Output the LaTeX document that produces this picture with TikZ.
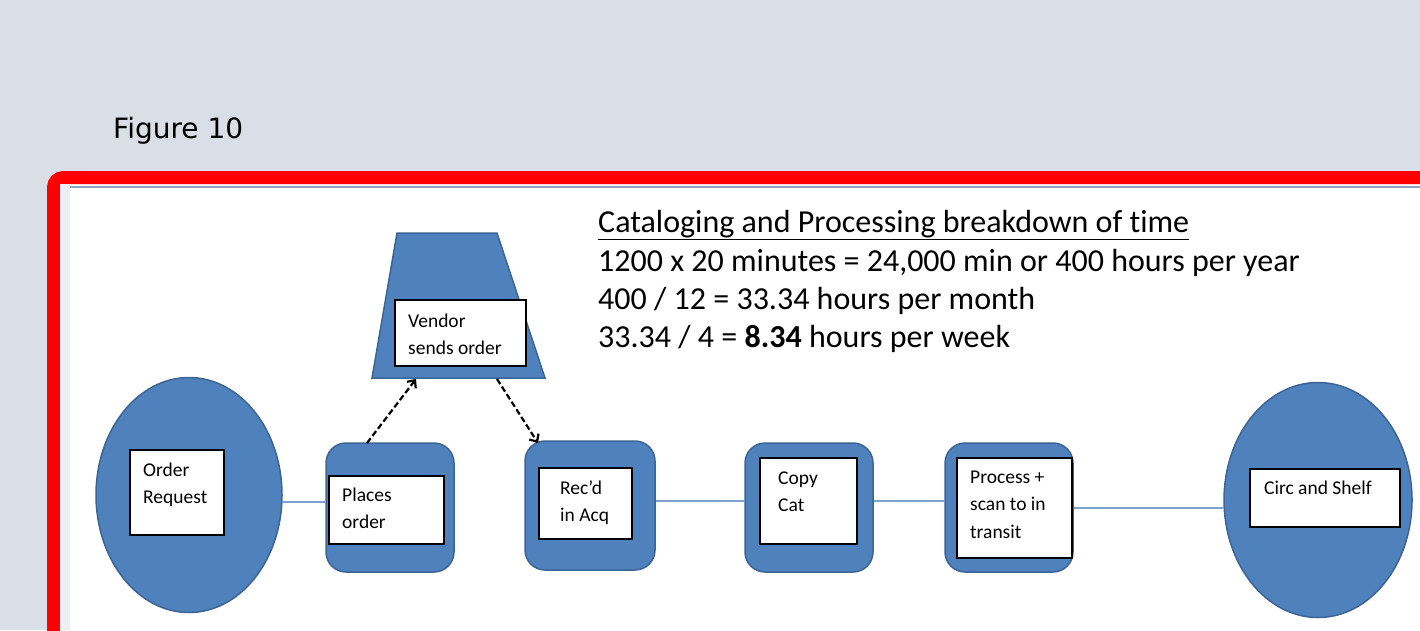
\documentclass[tikz,border=0pt]{standalone}
\usepackage{fontspec}
\setmainfont{Carlito}[Ligatures=NoCommon]
\newfontfamily\figfont{DejaVu Sans}
\usetikzlibrary{shapes.geometric,arrows.meta}
\definecolor{bg}{HTML}{D9DEE7}
\definecolor{sblue}{HTML}{4F81BD}
\definecolor{sborder}{HTML}{3C6494}
\definecolor{lnblue}{HTML}{7EA3CE}
\definecolor{framered}{HTML}{FF0000}
\definecolor{strip}{HTML}{ECEFF4}
\definecolor{topline}{HTML}{8CA3C2}
\begin{document}
\begin{tikzpicture}[x=1pt,y=-1pt,
  shapebox/.style={draw=sborder,line width=1.5pt,fill=sblue},
  ell/.style={shapebox,ellipse,inner sep=0},
  rbox/.style={shapebox,rectangle,rounded corners=20pt,minimum width=128pt,minimum height=129pt,inner sep=0},
  wbox/.style={draw=black,line width=1.6pt,fill=white,inner sep=0},
  lbl/.style={inner sep=0,anchor=base west,font=\fontsize{19.5}{27.5}\selectfont},
  link/.style={draw=lnblue,line width=1.8pt},
  dasharrow/.style={draw=black,line width=2.2pt,dash pattern=on 6pt off 3pt,-{Straight Barb[length=6pt,width=11pt]}},
  bigtxt/.style={inner sep=0,anchor=base west,font=\fontsize{32}{38}\selectfont}]
\useasboundingbox (0,0) rectangle (1420,630);
\fill[bg] (0,0) rectangle (1420,630);
\draw[framered, line width=13pt, rounded corners=10pt, fill=white] (53.5,177.5) rectangle (1460,680);
\fill[strip] (60,184) rectangle (70,630);
\draw[topline, line width=2pt] (70,187) -- (1420,187);

\node[inner sep=0,anchor=base west,font=\figfont\fontsize{28}{30}\selectfont] (fig) at (113,138) {Figure 10};

% Order request
\node[ell,minimum width=186pt,minimum height=235pt] (req) at (189,495) {};
\node[wbox,minimum width=94pt,minimum height=85pt] (reqbox) at (177,492.5) {};
\node[lbl] (reqtxt) at (143,476) {\parbox[t]{90pt}{Order\\Request}};

% Places order
\node[rbox] (places) at (390,507.5) {};
\node[wbox,minimum width=115pt,minimum height=68pt] (placesbox) at (386.5,510) {};
\node[lbl] (placestxt) at (342,501) {\parbox[t]{90pt}{Places\\order}};

% Rec'd
\node[rbox,minimum width=130pt] (recd) at (590,505.5) {};
\node[wbox,minimum width=93pt,minimum height=71pt] (recdbox) at (585.5,503.5) {};
\node[lbl] (recdtxt) at (560,494) {\parbox[t]{90pt}{Rec’d\\in Acq}};

% Copy cat
\node[rbox] (copy) at (809,507.5) {};
\node[wbox,minimum width=97pt,minimum height=86pt] (copybox) at (808.5,501) {};
\node[lbl] (copytxt) at (778,484) {\parbox[t]{90pt}{Copy\\Cat}};

% Process
\node[rbox] (proc) at (1009,507.5) {};
\node[wbox,minimum width=115pt,minimum height=100pt] (procbox) at (1014.5,508) {};
\node[lbl] (proctxt) at (970,483) {\parbox[t]{100pt}{Process +\\scan to in\\transit}};

% Circ and shelf
\node[ell,minimum width=188pt,minimum height=235pt] (circ) at (1318,500) {};
\node[wbox,minimum width=150pt,minimum height=58pt] (circbox) at (1325,498) {};
\node[lbl] (circtxt) at (1264,494) {Circ and Shelf};

% Vendor
\draw[shapebox] (397,233) coordinate (vtl) -- (497,233) coordinate (vtr) -- (545,378) coordinate (vbr) -- (372,378) coordinate (vbl) -- cycle;
\node[wbox,minimum width=131pt,minimum height=66pt] (vendbox) at (460.5,333) {};
\node[lbl] (vendtxt) at (408,327) {\parbox[t]{120pt}{Vendor\\sends order}};

% links
\draw[link] ([yshift=5.5pt]places.west) -- ([yshift=5.5pt]places.west -| req.east);
\draw[link] ([yshift=4.5pt]recd.east) -- ([yshift=4.5pt]recd.east -| copy.west);
\draw[link] ([yshift=6.5pt]copy.east) -- ([yshift=6.5pt]copy.east -| proc.west);
\draw[link] ([yshift=-0.5pt]proc.east) -- ([yshift=-0.5pt]proc.east -| circ.west);

% dashed arrows
\coordinate (d1s) at (367,443);
\coordinate (d1e) at (416,379);
\coordinate (d2s) at (497,379);
\coordinate (d2e) at (538,443);
\draw[dasharrow] (d1s) -- (d1e);
\draw[dasharrow] (d2s) -- (d2e);

% text
\node[bigtxt] (t1) at (598,232) {\underline{Cataloging and Processing breakdown of time}};
\node[bigtxt] (t2) at (598,271) {1200 x 20 minutes = 24,000 min or 400 hours per year};
\node[bigtxt] (t3) at (598,309) {400 / 12 = 33.34 hours per month};
\node[bigtxt] (t4) at (598,347) {33.34 / 4 = \textbf{8.34} hours per week};
\end{tikzpicture}
\end{document}
